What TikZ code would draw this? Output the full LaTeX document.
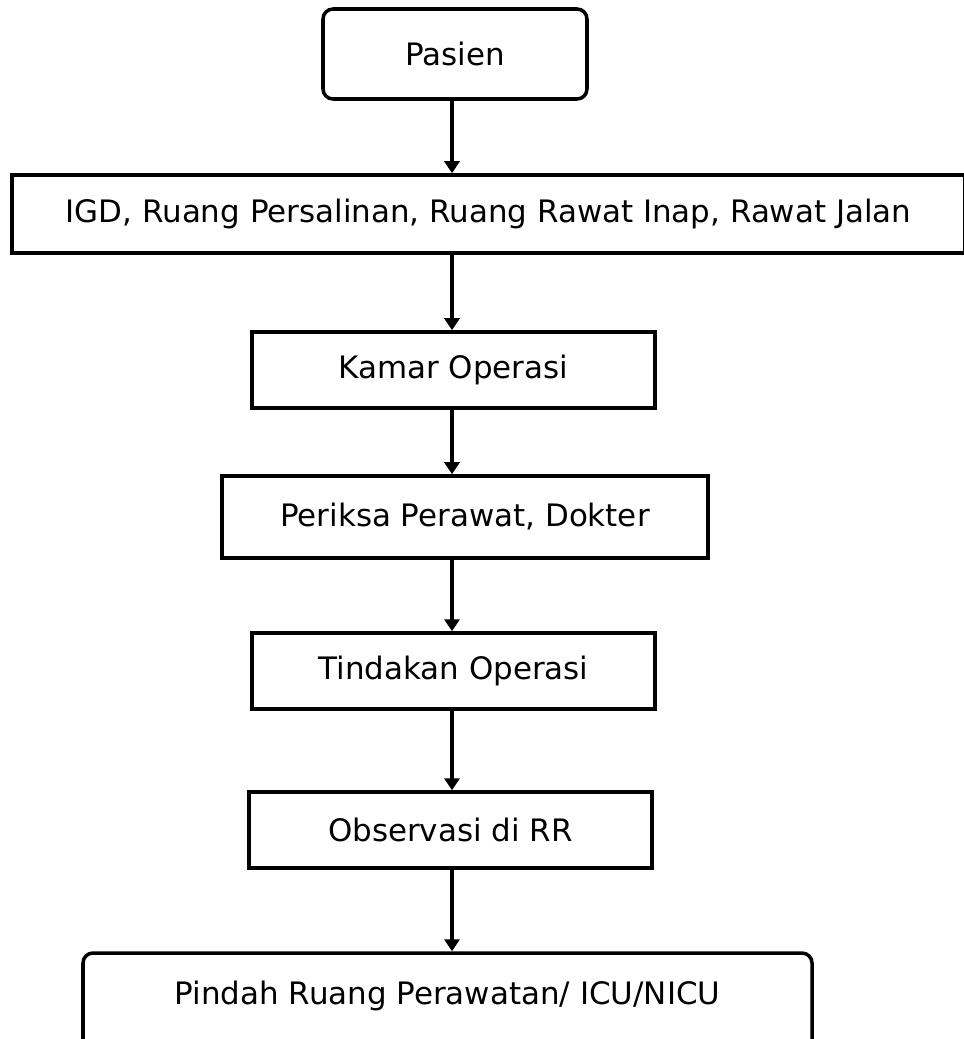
\documentclass[tikz,border=0pt]{standalone}
\usepackage{fontspec}
\setmainfont{DejaVu Sans}
\usetikzlibrary{arrows.meta}

\tikzset{
    box/.style={draw=black, line width=2pt, inner sep=0pt, minimum height=1.52cm, font=\fontsize{17.6}{21}\selectfont},
    rbox/.style={box, rounded corners=0.2cm},
    arr/.style={line width=2pt, -{Triangle[width=0.3cm,length=0.24cm]}}
}

\begin{document}
\begin{tikzpicture}
    \useasboundingbox (0,0) rectangle (19.28,-20.78);

    \node[rbox, minimum width=5.28cm, minimum height=1.80cm] (pasien) at (9.10,-1.08) {Pasien};
    \node[box, minimum width=19.06cm, minimum height=1.56cm] (igd) at (9.77,-4.28) {IGD, Ruang Persalinan, Ruang Rawat Inap, Rawat Jalan};
    \node[box, minimum width=8.06cm] (kamar) at (9.07,-7.40) {Kamar Operasi};
    \node[box, minimum width=9.72cm, minimum height=1.64cm] (periksa) at (9.30,-10.34) {Periksa Perawat, Dokter};
    \node[box, minimum width=8.06cm] (tindakan) at (9.07,-13.42) {Tindakan Operasi};
    \node[box, minimum width=8.06cm] (observasi) at (9.01,-16.60) {Observasi di RR};
    \node[rbox, minimum width=14.58cm, minimum height=2.20cm, text height=0.5cm, text depth=0.66cm] (pindah) at (8.95,-20.16) {Pindah Ruang Perawatan/ ICU/NICU};

    \coordinate (spine) at (9.04,0);

    \draw[arr] (pasien.south -| spine) -- (igd.north -| spine);
    \draw[arr] (igd.south -| spine) -- (kamar.north -| spine);
    \draw[arr] (kamar.south -| spine) -- (periksa.north -| spine);
    \draw[arr] (periksa.south -| spine) -- (tindakan.north -| spine);
    \draw[arr] (tindakan.south -| spine) -- (observasi.north -| spine);
    \draw[arr] (observasi.south -| spine) -- (pindah.north -| spine);
\end{tikzpicture}
\end{document}
